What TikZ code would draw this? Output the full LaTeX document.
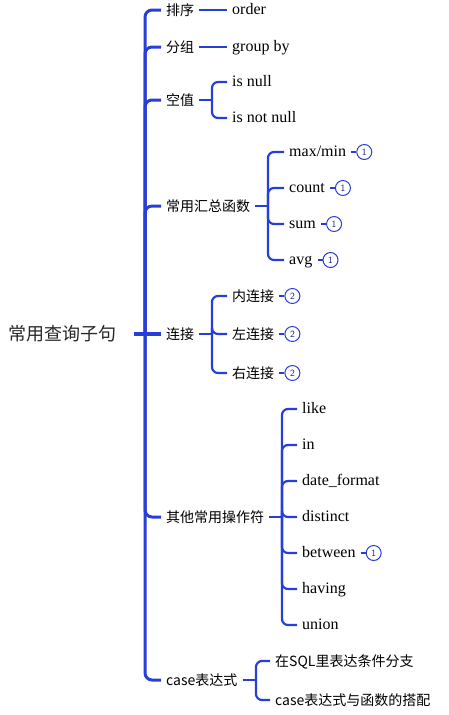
\documentclass[tikz,border=0pt]{standalone}
\usepackage{fontspec}
\setmainfont{Liberation Serif}
\newfontfamily\cjk{Noto Sans CJK SC}
\usepackage{xcolor}
\usetikzlibrary{positioning}

\definecolor{branch}{RGB}{40,62,216}

\tikzset{
    root/.style={font=\cjk\fontsize{18}{20}\selectfont, text=black!85, anchor=west, inner sep=0pt, text height=15.8pt, text depth=2.2pt},
    topic/.style={font=\cjk\fontsize{14}{16}\selectfont, anchor=west, inner xsep=5pt, inner ysep=0pt, text height=12.3pt, text depth=1.7pt},
    leaf/.style={font=\fontsize{16}{18}\selectfont, anchor=west, inner xsep=5pt, inner ysep=0pt, text height=11pt, text depth=1.5pt},
    tag/.style={circle, draw=branch, line width=1pt, inner sep=0pt, minimum size=15pt, font=\sffamily\fontsize{9.5}{9.5}\selectfont, text=branch!55!black},
    trunk/.style={draw=branch, line width=3pt, rounded corners=7pt},
    twig/.style={draw=branch, line width=2.2pt, rounded corners=6pt}
}

\begin{document}
\begin{tikzpicture}[x=1pt, y=-1pt]
    \useasboundingbox (0,0) rectangle (449,715);

    % Root and first level
    \node (query) [root] at (8,334) {常用查询子句};
    \node (sort) [topic] at (161,10) {排序};
    \node (group) [topic] at (161,47) {分组};
    \node (null) [topic] at (161,100) {空值};
    \node (agg) [topic] at (161,206) {常用汇总函数};
    \node (join) [topic] at (161,334) {连接};
    \node (ops) [topic] at (161,517) {其他常用操作符};
    \node (case) [topic] at (161,680) {case表达式};

    % Second level
    \node (order) [leaf] at (227,10) {order};
    \node (groupby) [leaf] at (227,47) {group by};
    \node (isnull) [leaf] at (227,82) {is null};
    \node (notnull) [leaf] at (227,118) {is not null};

    \node (maxmin) [leaf] at (284,152) {max/min};
    \node (count) [leaf] at (284,188) {count};
    \node (sum) [leaf] at (284,224) {sum};
    \node (avg) [leaf] at (284,260) {avg};

    \node (inner) [topic] at (227,296) {内连接};
    \node (left) [topic] at (227,334) {左连接};
    \node (right) [topic] at (227,373) {右连接};

    \node (like) [leaf] at (297,409) {like};
    \node (in) [leaf] at (297,445) {in};
    \node (date) [leaf] at (297,481) {date\_format};
    \node (distinct) [leaf] at (297,517) {distinct};
    \node (between) [leaf] at (297,553) {between};
    \node (having) [leaf] at (297,589) {having};
    \node (union) [leaf] at (297,625) {union};

    \node (branchsql) [topic] at (270,661) {在SQL里表达条件分支};
    \node (casefunc) [topic] at (270,700) {case表达式与函数的搭配};

    % Tags
    \node (t1) [tag, right=5pt of maxmin] {1};
    \node (t2) [tag, right=5pt of count] {1};
    \node (t3) [tag, right=5pt of sum] {1};
    \node (t4) [tag, right=5pt of avg] {1};
    \node (t5) [tag, right=5pt of inner] {2};
    \node (t6) [tag, right=5pt of left] {2};
    \node (t7) [tag, right=5pt of right] {2};
    \node (t8) [tag, right=5pt of between] {1};

    % Trunk
    \coordinate (stem) at (134,334);
    \coordinate (hub) at (145,334);
    \draw[trunk, line width=3.6pt] (stem) -- (join.west);
    \foreach \t in {sort,group,null,agg,ops,case}
        \draw[trunk] (hub) |- (\t.west);

    % Branches
    \draw[twig] (sort.east) -- (order.west);
    \draw[twig] (group.east) -- (groupby.west);

    \coordinate (nullfork) at (212,100);
    \draw[twig] (null.east) -- (nullfork);
    \foreach \c in {isnull,notnull}
        \draw[twig] (nullfork) |- (\c.west);

    \coordinate (aggfork) at (268,206);
    \draw[twig] (agg.east) -- (aggfork);
    \foreach \c in {maxmin,count,sum,avg}
        \draw[twig] (aggfork) |- (\c.west);

    \coordinate (joinfork) at (212,334);
    \draw[twig] (join.east) -- (joinfork);
    \foreach \c in {inner,left,right}
        \draw[twig] (joinfork) |- (\c.west);

    \coordinate (opsfork) at (282,517);
    \draw[twig] (ops.east) -- (opsfork);
    \foreach \c in {like,in,date,distinct,between,having,union}
        \draw[twig] (opsfork) |- (\c.west);

    \coordinate (casefork) at (256,680);
    \draw[twig] (case.east) -- (casefork);
    \foreach \c in {branchsql,casefunc}
        \draw[twig] (casefork) |- (\c.west);

    % Tag links
    \foreach \l/\t in {maxmin/t1,count/t2,sum/t3,avg/t4,inner/t5,left/t6,right/t7,between/t8}
        \draw[draw=branch, line width=1.5pt] (\l.east) -- (\t.west);

\end{tikzpicture}
\end{document}
